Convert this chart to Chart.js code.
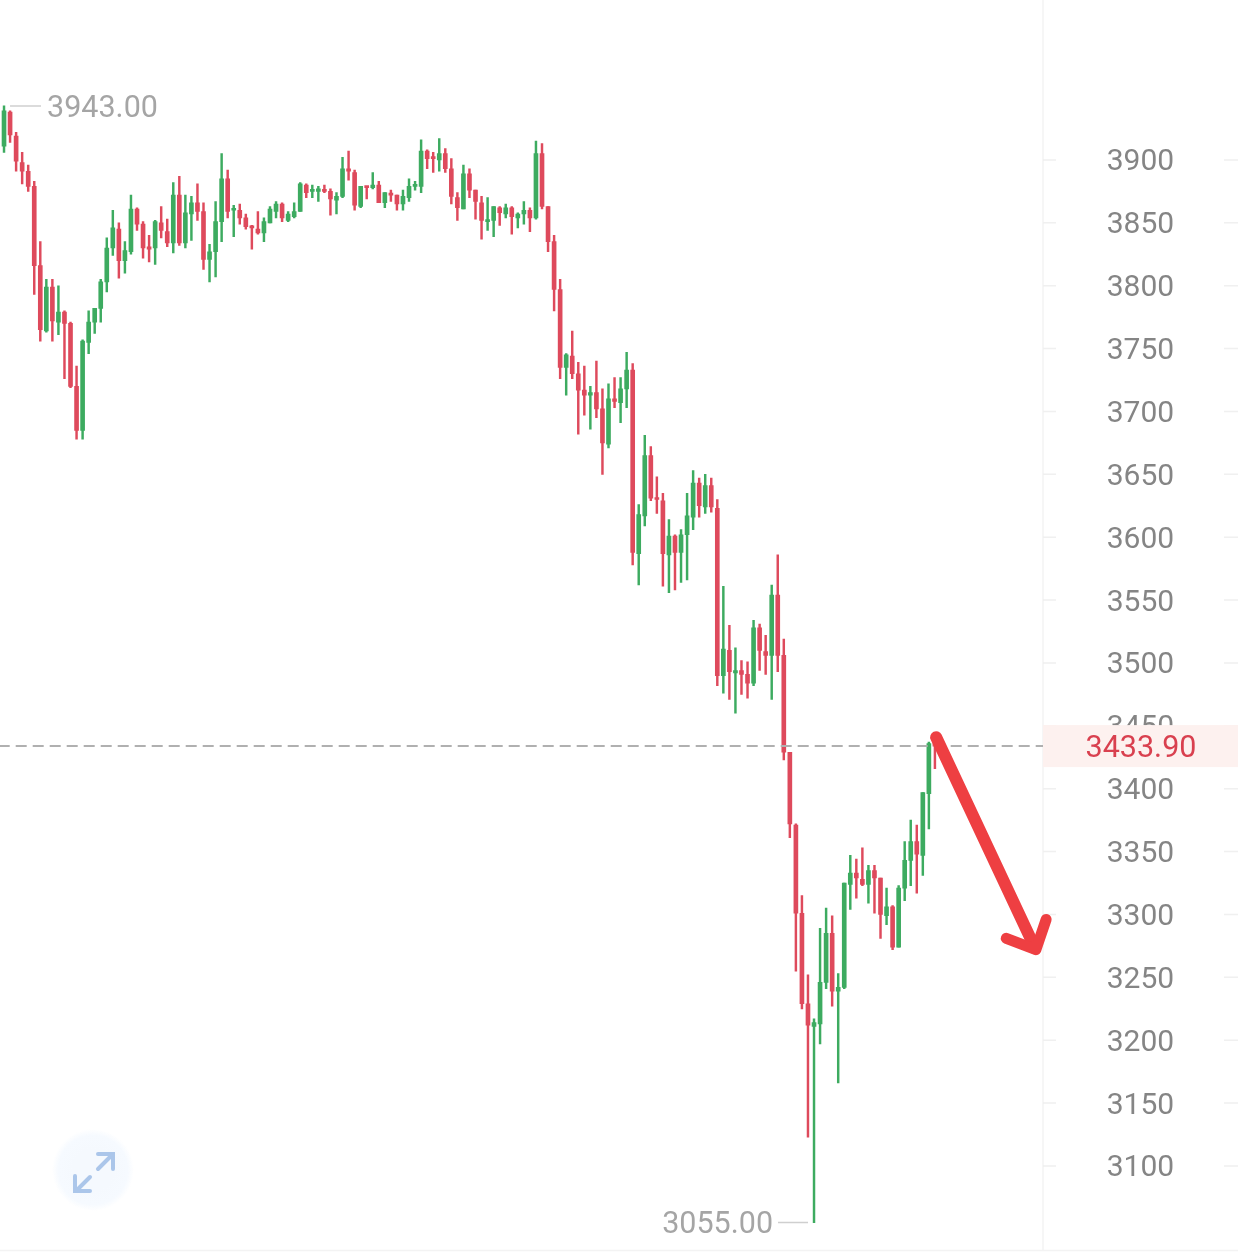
<!DOCTYPE html>
<html>
<head>
<meta charset="utf-8">
<title>Candlestick chart</title>
<script src="https://cdn.jsdelivr.net/npm/chart.js@4/dist/chart.umd.min.js"></script>
<style>
  html, body { margin: 0; padding: 0; background: #fff; }
  canvas { display: block; }
</style>
</head>
<body>
<canvas id="kline" width="1238" height="1253"></canvas>
<script>
const opens = [
  3911,3938,3919,3898,3891,3879,3816,3764,3799,3771,
  3779,3770,3720,3685,3755,3771,3782,3803,3830,3845,
  3820,3827,3861,3849,3831,3830,3850,3843,3834,3872,
  3834,3857,3866,3859,3821,3827,3851,3885,3860,3860,
  3854,3847,3845,3842,3850,3859,3865,3852,3855,3859,
  3880,3875,3875,3876,3875,3868,3871,3893,3890,3863,
  3879,3878,3880,3866,3873,3872,3865,3870,3879,3879,
  3907,3902,3900,3905,3893,3870,3861,3889,3876,3866,
  3851,3852,3862,3857,3862,3854,3857,3860,3854,3905,
  3863,3835,3797,3735,3744,3730,3717,3713,3715,3702,
  3674,3710,3707,3718,3733,3587,3617,3665,3631,3629,
  3586,3601,3588,3602,3616,3643,3624,3641,3623,3490,
  3510,3492,3494,3491,3484,3528,3509,3506,3554,3506,
  3429,3371,3301,3229,3211,3213,3246,3285,3239,3242,
  3324,3333,3328,3324,3335,3329,3299,3306,3274,3321,
  3343,3358,3347,3396,3436
];
const highs = [
  3943,3939,3922,3906,3896,3883,3835,3805,3805,3800,
  3780,3771,3736,3757,3780,3782,3805,3838,3860,3850,
  3835,3872,3862,3851,3840,3852,3863,3853,3882,3887,
  3872,3871,3881,3866,3833,3867,3905,3892,3864,3865,
  3857,3848,3859,3854,3863,3867,3866,3859,3866,3882,
  3881,3880,3879,3880,3877,3874,3902,3907,3892,3879,
  3879,3890,3883,3874,3876,3872,3876,3885,3883,3916,
  3908,3906,3917,3909,3901,3874,3896,3893,3876,3871,
  3870,3863,3863,3865,3863,3858,3867,3862,3915,3913,
  3863,3840,3805,3746,3764,3739,3736,3720,3740,3718,
  3722,3727,3727,3747,3738,3626,3681,3672,3648,3635,
  3614,3602,3606,3635,3653,3647,3650,3647,3630,3561,
  3530,3512,3502,3501,3534,3531,3522,3562,3586,3519,
  3429,3372,3315,3252,3217,3289,3305,3299,3253,3325,
  3347,3344,3353,3339,3339,3329,3321,3307,3323,3358,
  3375,3371,3397,3437,3441
];
const lows = [
  3906,3914,3891,3881,3875,3793,3756,3763,3756,3761,
  3726,3719,3678,3678,3746,3762,3771,3795,3824,3806,
  3810,3825,3844,3822,3819,3817,3838,3831,3826,3832,
  3830,3836,3852,3813,3803,3807,3835,3854,3839,3849,
  3845,3829,3841,3835,3850,3854,3851,3851,3854,3859,
  3870,3870,3867,3874,3856,3857,3870,3884,3860,3862,
  3869,3877,3866,3862,3867,3860,3860,3867,3876,3874,
  3893,3890,3891,3890,3865,3852,3861,3870,3853,3837,
  3844,3839,3848,3854,3841,3846,3849,3843,3853,3861,
  3827,3780,3726,3713,3726,3682,3697,3686,3695,3650,
  3671,3703,3691,3703,3578,3562,3609,3629,3619,3561,
  3556,3558,3564,3566,3606,3616,3619,3620,3482,3476,
  3471,3460,3475,3472,3482,3494,3491,3471,3493,3423,
  3361,3255,3225,3123,3055,3197,3241,3227,3166,3241,
  3304,3313,3323,3309,3301,3281,3292,3272,3274,3311,
  3323,3317,3331,3368,3416
];
const closes = [
  3939,3920,3899,3891,3879,3816,3765,3799,3772,3779,
  3770,3720,3685,3756,3771,3782,3803,3830,3846,3820,
  3828,3861,3849,3830,3829,3851,3844,3834,3872,3834,
  3858,3866,3859,3821,3827,3851,3885,3859,3861,3854,
  3847,3846,3842,3851,3861,3865,3854,3857,3859,3881,
  3874,3876,3877,3875,3869,3871,3893,3891,3864,3879,
  3878,3880,3866,3874,3872,3865,3871,3879,3880,3907,
  3901,3901,3905,3893,3871,3862,3889,3876,3867,3852,
  3852,3863,3858,3862,3855,3857,3860,3854,3905,3863,
  3835,3797,3735,3745,3730,3717,3713,3715,3702,3675,
  3710,3708,3718,3733,3588,3618,3665,3631,3630,3587,
  3601,3588,3602,3617,3643,3625,3641,3624,3490,3511,
  3493,3494,3491,3484,3528,3510,3506,3554,3506,3429,
  3372,3301,3229,3212,3214,3246,3285,3239,3242,3325,
  3333,3329,3324,3335,3329,3300,3306,3274,3321,3343,
  3358,3348,3397,3436,3433.9
];
const tickValues = [3900,3850,3800,3750,3700,3650,3600,3550,3500,3450,3400,3350,3300,3250,3200,3150,3100];
// 17 empty slots after the last candle, the chart leaves that gap before the axis
const emptySlots = 17;
const categories = opens.concat(new Array(emptySlots).fill(0)).map((_, i) => String(i));

// hand-drawn arrow, in candle index / price
const arrowShaftX = [154.2, 170.6];
const arrowShaftY = [3441, 3273];
const arrowHeadX = [165.8, 170.7, 172.4];
const arrowHeadY = [3281, 3272, 3296];

const RED = "#de4a5c";
const GREEN = "#3dab60";
const GREY_TEXT = "#858585";
const LABEL_TEXT = "#a5a5a5";
const FONT = "30.5px Roboto";
const GUTTER_X = 1043;

const candleColors = closes.map((c, i) => (c >= opens[i] ? GREEN : RED));

// Everything around the candles: gutter, dashed last price, hi/lo labels, arrow, expand button
const overlayPlugin = {
  id: "overlay",
  afterDraw(chart) {
    const ctx = chart.ctx;
    const x = chart.scales.x;
    const y = chart.scales.y;
    const area = chart.chartArea;
    const last = closes[closes.length - 1];
    const lastY = y.getPixelForValue(last);

    ctx.save();

    // gutter border and bottom line
    ctx.strokeStyle = "#f3f3f3";
    ctx.lineWidth = 1.5;
    ctx.beginPath();
    ctx.moveTo(GUTTER_X, 0);
    ctx.lineTo(GUTTER_X, area.bottom);
    ctx.moveTo(0, area.bottom + 0.5);
    ctx.lineTo(chart.width, area.bottom + 0.5);
    ctx.stroke();

    // short tick marks on both sides of the gutter
    ctx.strokeStyle = "#f0f0f0";
    ctx.lineWidth = 1.5;
    tickValues.forEach((v) => {
      const ty = y.getPixelForValue(v);
      ctx.beginPath();
      ctx.moveTo(GUTTER_X, ty);
      ctx.lineTo(GUTTER_X + 13, ty);
      ctx.moveTo(chart.width - 14, ty);
      ctx.lineTo(chart.width, ty);
      ctx.stroke();
    });

    // last price box sits on top of the 3450 label, clips it like the original
    ctx.fillStyle = "#fdf1ef";
    ctx.fillRect(GUTTER_X, lastY - 21, chart.width - GUTTER_X, 42);
    ctx.fillStyle = "#d9404f";
    ctx.font = FONT;
    ctx.textAlign = "center";
    ctx.textBaseline = "middle";
    ctx.fillText(last.toFixed(2), 1141, lastY + 3);

    // dashed last price line
    ctx.strokeStyle = "#b0b0b0";
    ctx.lineWidth = 2;
    ctx.setLineDash([11, 6]);
    ctx.lineDashOffset = 1.3;
    ctx.beginPath();
    ctx.moveTo(0, lastY);
    ctx.lineTo(GUTTER_X, lastY);
    ctx.stroke();
    ctx.setLineDash([]);

    // high / low labels with their leader lines
    const hi = Math.max(...highs);
    const lo = Math.min(...lows);
    const hiX = x.getPixelForValue(highs.indexOf(hi));
    const loX = x.getPixelForValue(lows.indexOf(lo));
    const hiY = y.getPixelForValue(hi);
    const loY = y.getPixelForValue(lo);
    ctx.strokeStyle = "#cfcfcf";
    ctx.lineWidth = 1.5;
    ctx.beginPath();
    ctx.moveTo(hiX + 6, hiY);
    ctx.lineTo(hiX + 37, hiY);
    ctx.moveTo(loX - 6, loY);
    ctx.lineTo(loX - 36, loY);
    ctx.stroke();
    ctx.fillStyle = LABEL_TEXT;
    ctx.textAlign = "left";
    ctx.fillText(hi.toFixed(2), hiX + 43, hiY + 3);
    ctx.textAlign = "right";
    ctx.fillText(lo.toFixed(2), loX - 41, loY + 3);

    // arrow
    ctx.strokeStyle = "#ee3f42";
    ctx.lineWidth = 12;
    ctx.lineCap = "round";
    ctx.lineJoin = "round";
    ctx.beginPath();
    ctx.moveTo(x.getPixelForValue(arrowShaftX[0]), y.getPixelForValue(arrowShaftY[0]));
    ctx.lineTo(x.getPixelForValue(arrowShaftX[1]), y.getPixelForValue(arrowShaftY[1]));
    ctx.stroke();
    ctx.lineWidth = 11;
    ctx.beginPath();
    arrowHeadX.forEach((hx, i) => {
      const px = x.getPixelForValue(hx);
      const py = y.getPixelForValue(arrowHeadY[i]);
      if (i === 0) ctx.moveTo(px, py);
      else ctx.lineTo(px, py);
    });
    ctx.stroke();

    // expand button
    const grad = ctx.createRadialGradient(93, 1170, 20, 93, 1170, 41);
    grad.addColorStop(0, "#f5f9fe");
    grad.addColorStop(0.7, "#f6faff");
    grad.addColorStop(1, "rgba(246,250,255,0)");
    ctx.fillStyle = grad;
    ctx.beginPath();
    ctx.arc(93, 1170, 41, 0, Math.PI * 2);
    ctx.fill();
    ctx.strokeStyle = "#abc6ea";
    ctx.lineWidth = 4;
    ctx.lineCap = "round";
    ctx.lineJoin = "miter";
    ctx.beginPath();
    ctx.moveTo(98, 1169); ctx.lineTo(112, 1155);
    ctx.moveTo(98, 1154); ctx.lineTo(113, 1154); ctx.lineTo(113, 1169);
    ctx.moveTo(90, 1177); ctx.lineTo(76, 1191);
    ctx.moveTo(75, 1176); ctx.lineTo(75, 1191); ctx.lineTo(90, 1191);
    ctx.stroke();

    ctx.restore();
  },
};

new Chart(document.getElementById("kline"), {
  type: "bar",
  plugins: [overlayPlugin],
  data: {
    labels: categories,
    datasets: [
      {
        label: "body",
        data: opens.map((o, i) => [o, closes[i]]),
        backgroundColor: candleColors,
        barThickness: 4,
        minBarLength: 2,
        grouped: false,
      },
      {
        label: "wick",
        data: lows.map((l, i) => [l, highs[i]]),
        backgroundColor: candleColors,
        barThickness: 1.8,
        grouped: false,
      },
    ],
  },
  options: {
    responsive: false,
    animation: false,
    layout: { autoPadding: false, padding: { left: 1, right: 0, top: 0, bottom: 3 } },
    plugins: { legend: { display: false }, tooltip: { enabled: false } },
    scales: {
      x: { display: false, grid: { display: false } },
      y: {
        position: "right",
        min: 3033.2,
        max: 4027.2,
        afterBuildTicks: (scale) => {
          scale.ticks = tickValues.map((v) => ({ value: v }));
        },
        afterFit: (scale) => {
          // 197.3 makes the candle spacing come out at the 6.045px of the original
          scale.width = 197.3;
          // no room reserved for half a label above/below the plot
          scale.paddingTop = 0;
          scale.paddingBottom = 0;
        },
        // invisible long tick just pushes the labels to the middle of the gutter
        grid: { drawOnChartArea: false, drawTicks: true, tickLength: 66, tickColor: "transparent" },
        border: { display: false },
        ticks: {
          color: GREY_TEXT,
          font: { family: "Roboto", size: 30 },
          padding: 0,
          labelOffset: 3,
          autoSkip: false,
          callback: (v) => String(v),
        },
      },
    },
  },
});
</script>
</body>
</html>
